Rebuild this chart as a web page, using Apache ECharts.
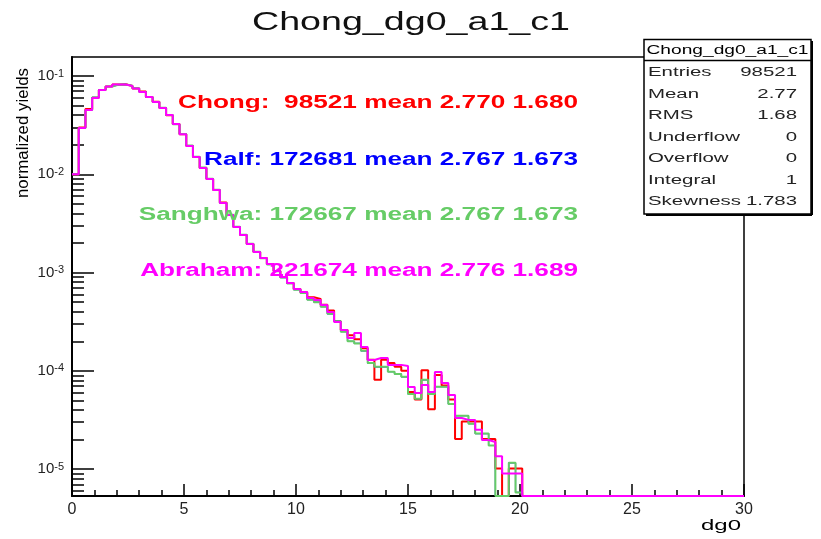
<!DOCTYPE html>
<html><head><meta charset="utf-8">
<script src="https://cdn.jsdelivr.net/npm/echarts@6/dist/echarts.min.js"></script>
<style>html,body{margin:0;padding:0;background:#fff}#c{width:821px;height:539px}</style>
</head><body><div id="c"></div>
<script>
// Histogram binning (100 bins on 0..30)
const binCount = 100, xLow = 0, xHigh = 30;
const xTicks = [0, 5, 10, 15, 20, 25, 30];

// normalized yields per bin (bins beyond index 66 are empty)
const chong = [
 0.0100,0.0300,0.0462,0.0600,0.0721,0.0782,0.0820,0.0825,0.0791,0.0746,
 0.0695,0.0611,0.0548,0.0472,0.0398,0.0325,0.0255,0.0194,0.0150,0.0116,
 0.00896,0.00692,0.00515,0.00385,0.00291,0.00241,0.00195,0.00162,0.00141,0.00122,
 0.00104,0.000901,0.000783,0.000680,0.00063,0.00056,0.00054,0.00047,0.00041,0.00032,
 0.00026,0.00023,0.00021,0.00017,0.00013,0.000081,0.00013,0.00012,0.00011,0.00010,
 0.000061,0.000051,0.0001015,0.0000406,0.000091,0.000071,0.000051,0.0000203,0.0000305,0.0000305,
 0.0000305,0.0000203,0.0000203,0.00001015,0,0.00001015,0.00001015
];
const ralf = [
 0.0100,0.0296,0.0451,0.0605,0.0721,0.0782,0.0818,0.0820,0.0795,0.0750,
 0.0688,0.0611,0.0544,0.0475,0.0401,0.0322,0.0257,0.0196,0.0151,0.0117,
 0.00900,0.00695,0.00510,0.00388,0.00293,0.00243,0.00196,0.00163,0.00140,0.00121,
 0.00103,0.000890,0.000775,0.000670,0.00062,0.00053,0.00050,0.00045,0.00038,0.00032,
 0.00025,0.00020,0.00019,0.00016,0.00012,0.00011,0.00011,0.000098,0.000093,0.000087,
 0.000058,0.000052,0.000081,0.000058,0.000069,0.000069,0.000046,0.000035,0.000035,0.000029,
 0.000023,0.000023,0.0000174,0,0,0.0000116,0.0000058
];
const sanghwa = [
 0.0100,0.0296,0.0451,0.0605,0.0721,0.0782,0.0818,0.0820,0.0795,0.0750,
 0.0688,0.0611,0.0544,0.0475,0.0401,0.0322,0.0257,0.0196,0.0151,0.0117,
 0.00900,0.00695,0.00510,0.00388,0.00293,0.00243,0.00196,0.00163,0.00140,0.00121,
 0.00103,0.000890,0.000775,0.000670,0.00062,0.00053,0.00050,0.00045,0.00038,0.00032,
 0.00025,0.00020,0.00019,0.00016,0.00012,0.00011,0.00011,0.000098,0.000093,0.000087,
 0.000058,0.000052,0.000081,0.000058,0.000069,0.000069,0.000046,0.000035,0.000035,0.000029,
 0.000023,0.000023,0.0000174,0,0,0.0000116,0.0000058
];
const abraham = [
 0.0100,0.0296,0.0451,0.0597,0.0721,0.0782,0.0820,0.0820,0.0791,0.0746,
 0.0688,0.0611,0.0544,0.0472,0.0401,0.0325,0.0255,0.0194,0.0150,0.0116,
 0.00896,0.00692,0.00510,0.00385,0.00291,0.00241,0.00195,0.00162,0.00141,0.00122,
 0.00104,0.000901,0.000783,0.000680,0.000635,0.000552,0.000526,0.000468,0.000397,0.000314,
 0.000261,0.000216,0.000243,0.000175,0.000129,0.000135,0.000135,0.000115,0.000115,0.000112,
 0.0000686,0.0000596,0.0000719,0.0000610,0.0000973,0.0000753,0.0000569,0.0000332,0.0000317,0.0000317,
 0.0000251,0.0000198,0.0000189,0.0000135,0.00000902,0.00000902,0.00000902
];

const seriesNames = ['Chong', 'Ralf', 'Sanghwa', 'Abraham'];
const seriesColors = ['#ff0000', '#0000ff', '#66cc66', '#ff00ff'];
const seriesWidths = [2, 1.2, 2, 2];
const seriesData = [chong, ralf, sanghwa, abraham];
const infoLines = [
  'Chong:  98521 mean 2.770 1.680',
  'Ralf: 172681 mean 2.767 1.673',
  'Sanghwa: 172667 mean 2.767 1.673',
  'Abraham: 221674 mean 2.776 1.689'
];
const statsTitle = 'Chong_dg0_a1_c1';
const statsLabels = ['Entries', 'Mean', 'RMS', 'Underflow', 'Overflow', 'Integral', 'Skewness'];
const statsValues = ['98521', '2.77', '1.68', '0', '0', '1', '1.783'];
const chartTitle = 'Chong_dg0_a1_c1';
const xTitle = 'dg0';
const yTitle = 'normalized yields';

const yMin = 5.33e-6, yMax = 0.156;
const binW = (xHigh - xLow) / binCount;

function histPoints(vals) {
  const pts = [];
  for (let i = 0; i < binCount; i++) {
    let v = i < vals.length ? vals[i] : 0;
    if (!(v > yMin)) v = yMin; // empty / underflowing bins drawn on the frame bottom (ROOT style)
    pts.push([xLow + i * binW, v]);
  }
  pts.push([xHigh, pts[pts.length - 1][1]]);
  return pts;
}

const minorTicks = [];
for (let e = -6; e <= -1; e++) for (let m = 2; m <= 9; m++) {
  const v = m * Math.pow(10, e);
  if (v > yMin && v < yMax) minorTicks.push(v);
}

const ctx = document.createElement('canvas').getContext('2d');
function textW(t, font) { ctx.font = font; return ctx.measureText(t).width; }

const G = [];
function addText(t, x, y, o) {
  const size = o.size, weight = o.weight || 'normal', fam = o.family || 'Liberation Sans';
  const font = weight + ' ' + size + 'px "' + fam + '"';
  const sx = o.sx || (o.tw ? o.tw / textW(t, font) : 1);
  G.push({
    type: 'text', x: x, y: y, rotation: o.rot || 0, scaleX: sx, scaleY: o.sy || 1, z: 100,
    style: { text: t, x: 0, y: 0, fill: o.color || '#000', font: font,
      align: o.align || 'left', verticalAlign: 'middle' }
  });
  return sx;
}

// title
addText(chartTitle, 411, 23, { size: 25, tw: 318, align: 'center', color: '#111' });
// info texts (right aligned)
const infoFont = 'bold 18px "Liberation Sans"';
const infoScale = 400 / textW(infoLines[0], infoFont);
const infoY = [103, 160, 215, 271];
infoLines.forEach((t, i) => addText(t, 578, infoY[i], { size: 18, weight: 'bold', sx: infoScale, align: 'right', color: seriesColors[i] }));
// stats box
G.push({ type: 'rect', shape: { x: 644, y: 39.5, width: 167, height: 174.5 }, z: 90,
  style: { fill: '#fff', stroke: '#000', lineWidth: 1.5 } });
G.push({ type: 'line', shape: { x1: 644, y1: 60.5, x2: 811, y2: 60.5 }, z: 91, style: { stroke: '#000', lineWidth: 1.5 } });
G.push({ type: 'line', shape: { x1: 812, y1: 41, x2: 812, y2: 215 }, z: 91, style: { stroke: '#000', lineWidth: 2 } });
G.push({ type: 'line', shape: { x1: 646, y1: 215, x2: 812, y2: 215 }, z: 91, style: { stroke: '#000', lineWidth: 2 } });
addText(statsTitle, 727.5, 50.5, { size: 12, tw: 162, align: 'center' });
const stFont = 'normal 12px "Liberation Sans"';
const stScale = 93 / textW('Skewness', stFont);
statsLabels.forEach((t, i) => {
  const y = 73 + i * 21.5;
  addText(t, 648, y, { size: 12, sx: stScale, color: '#222' });
  addText(statsValues[i], 797, y, { size: 12, sx: stScale, align: 'right', color: '#222' });
});
// axis titles
addText(yTitle, 24, 68, { size: 13, tw: 130, align: 'right', rot: Math.PI / 2, sy: 1.2 });
addText(xTitle, 741, 526, { size: 15, tw: 40, align: 'right' });

const chart = echarts.init(document.getElementById('c'), null, { renderer: 'canvas' });
chart.setOption({
  animation: false,
  backgroundColor: '#fff',
  grid: { left: 72, right: 77, top: 57, bottom: 43, show: true, borderColor: '#000', borderWidth: 1.5, backgroundColor: 'transparent' },
  xAxis: {
    type: 'value', min: xLow, max: xHigh, interval: 5,
    axisLine: { onZero: false, lineStyle: { color: '#000', width: 2 } },
    axisTick: { inside: true, length: 12, lineStyle: { color: '#000', width: 1.5 } },
    minorTick: { show: true, splitNumber: 5, length: 6, lineStyle: { color: '#000', width: 1.5 } },
    splitLine: { show: false },
    axisLabel: { color: '#222', fontSize: 16, fontFamily: 'Liberation Sans', margin: 6,
      customValues: xTicks }
  },
  yAxis: [{
    type: 'log', min: yMin, max: yMax, logBase: 10,
    axisLine: { lineStyle: { color: '#000', width: 2 } },
    axisTick: { inside: true, length: 22, lineStyle: { color: '#000', width: 1.5 } },
    splitLine: { show: false },
    axisLabel: {
      showMinLabel: false, showMaxLabel: false, margin: 8,
      formatter: v => '{b|10}{s|' + Math.round(Math.log10(v)) + '}',
      rich: {
        b: { fontSize: 15, fontFamily: 'Liberation Sans', color: '#222', lineHeight: 16 },
        s: { fontSize: 11, fontFamily: 'Liberation Sans', color: '#222', verticalAlign: 'top', lineHeight: 11 }
      }
    }
  }, {
    type: 'log', min: yMin, max: yMax, logBase: 10, position: 'left',
    axisLine: { show: false },
    axisTick: { inside: true, length: 12, customValues: minorTicks, lineStyle: { color: '#000', width: 1.5 } },
    axisLabel: { show: false },
    splitLine: { show: false }
  }],
  series: seriesData.map((d, i) => ({
    name: seriesNames[i], type: 'line', step: 'end', yAxisIndex: 0,
    data: histPoints(d), showSymbol: false, symbol: 'none',
    lineStyle: { color: seriesColors[i], width: seriesWidths[i] }, z: 10 + i
  })),
  graphic: G
});
</script>
</body></html>
